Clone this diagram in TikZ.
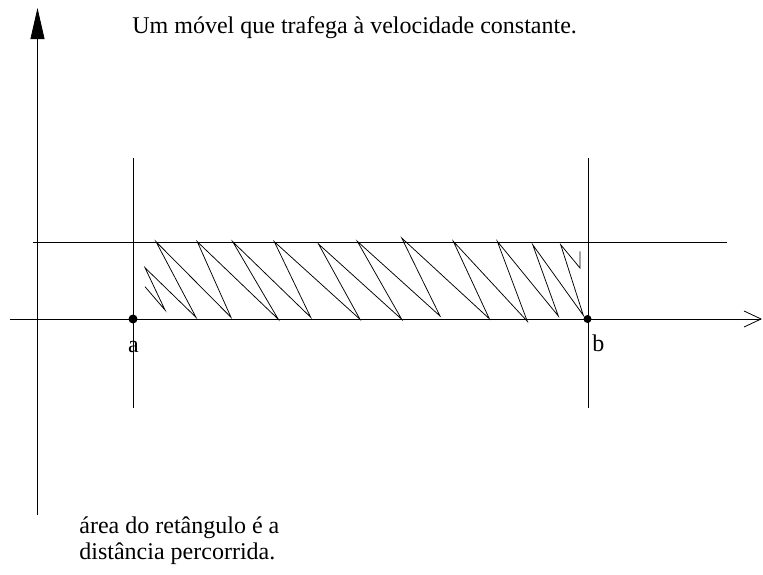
\documentclass[tikz,border=0pt]{standalone}
\usepackage{fontspec}
\setmainfont{Liberation Serif}
\usetikzlibrary{arrows.meta}
\begin{document}
\begin{tikzpicture}[x=1pt,y=-1pt,line width=0.8pt,
  txt/.style={font=\fontsize{24}{27}\selectfont,inner sep=0pt},
  dotpt/.style={circle,fill=black,draw=none,inner sep=0pt,minimum size=#1},
  guide/.style={draw=black,line width=0.8pt},
  zig/.style={draw=black,line width=0.75pt,line join=miter}]
\useasboundingbox (0,0) rectangle (763,574);
% axes
\coordinate (ybot) at (37.5,515);
\coordinate (ytop) at (37.5,8);
\draw[-{Triangle[length=31pt,width=14pt]}] (ybot) -- (ytop);
\coordinate (xl) at (10,319);
\coordinate (xr) at (762,319);
\draw[-{Straight Barb[length=17pt,width=16pt]}] (xl) -- (xr);
% guide lines
\coordinate (h1) at (33,242);
\coordinate (h2) at (727,242);
\draw[guide] (h1) -- (h2);
\coordinate (va1) at (133,158);
\coordinate (va2) at (133,408);
\draw[guide] (va1) -- (va2);
\coordinate (vb1) at (588,158);
\coordinate (vb2) at (588,408);
\draw[guide] (vb1) -- (vb2);
% zigzag
\draw[zig] (145,286.7) -- (165,310) -- (145,267.7) -- (196,317.3) -- (156,241.7)
  -- (231,317.3) -- (197.3,241.7) -- (278.3,319.3) -- (232.7,241.7) -- (310.7,317.3)
  -- (274.3,241.7) -- (360,319.3) -- (318.5,244) -- (401.7,319.3) -- (357.3,241.3)
  -- (440,316) -- (401.7,238) -- (489.3,318.7) -- (453.3,241.3) -- (527.3,321.3)
  -- (497.3,241.3) -- (558.3,316) -- (532.7,244.7) -- (583.3,315.3) -- (560.7,244.7)
  -- (580,268) -- (580,251.3);
% points
\node[dotpt=9pt] (pa) at (133,319) {};
\node[dotpt=8pt] (pb) at (587.5,319) {};
\node[txt,anchor=base] (la) at (133.5,352) {a};
\node[txt,anchor=base west] (lb) at (592,351) {b};
% texts
\node[txt,anchor=base west] (title) at (132,33) {Um móvel que trafega à velocidade constante.};
\node[txt,anchor=base west] (c1) at (79,533) {área do retângulo é a};
\node[txt,anchor=base west] (c2) at (79,559.5) {distância percorrida.};
\end{tikzpicture}
\end{document}
